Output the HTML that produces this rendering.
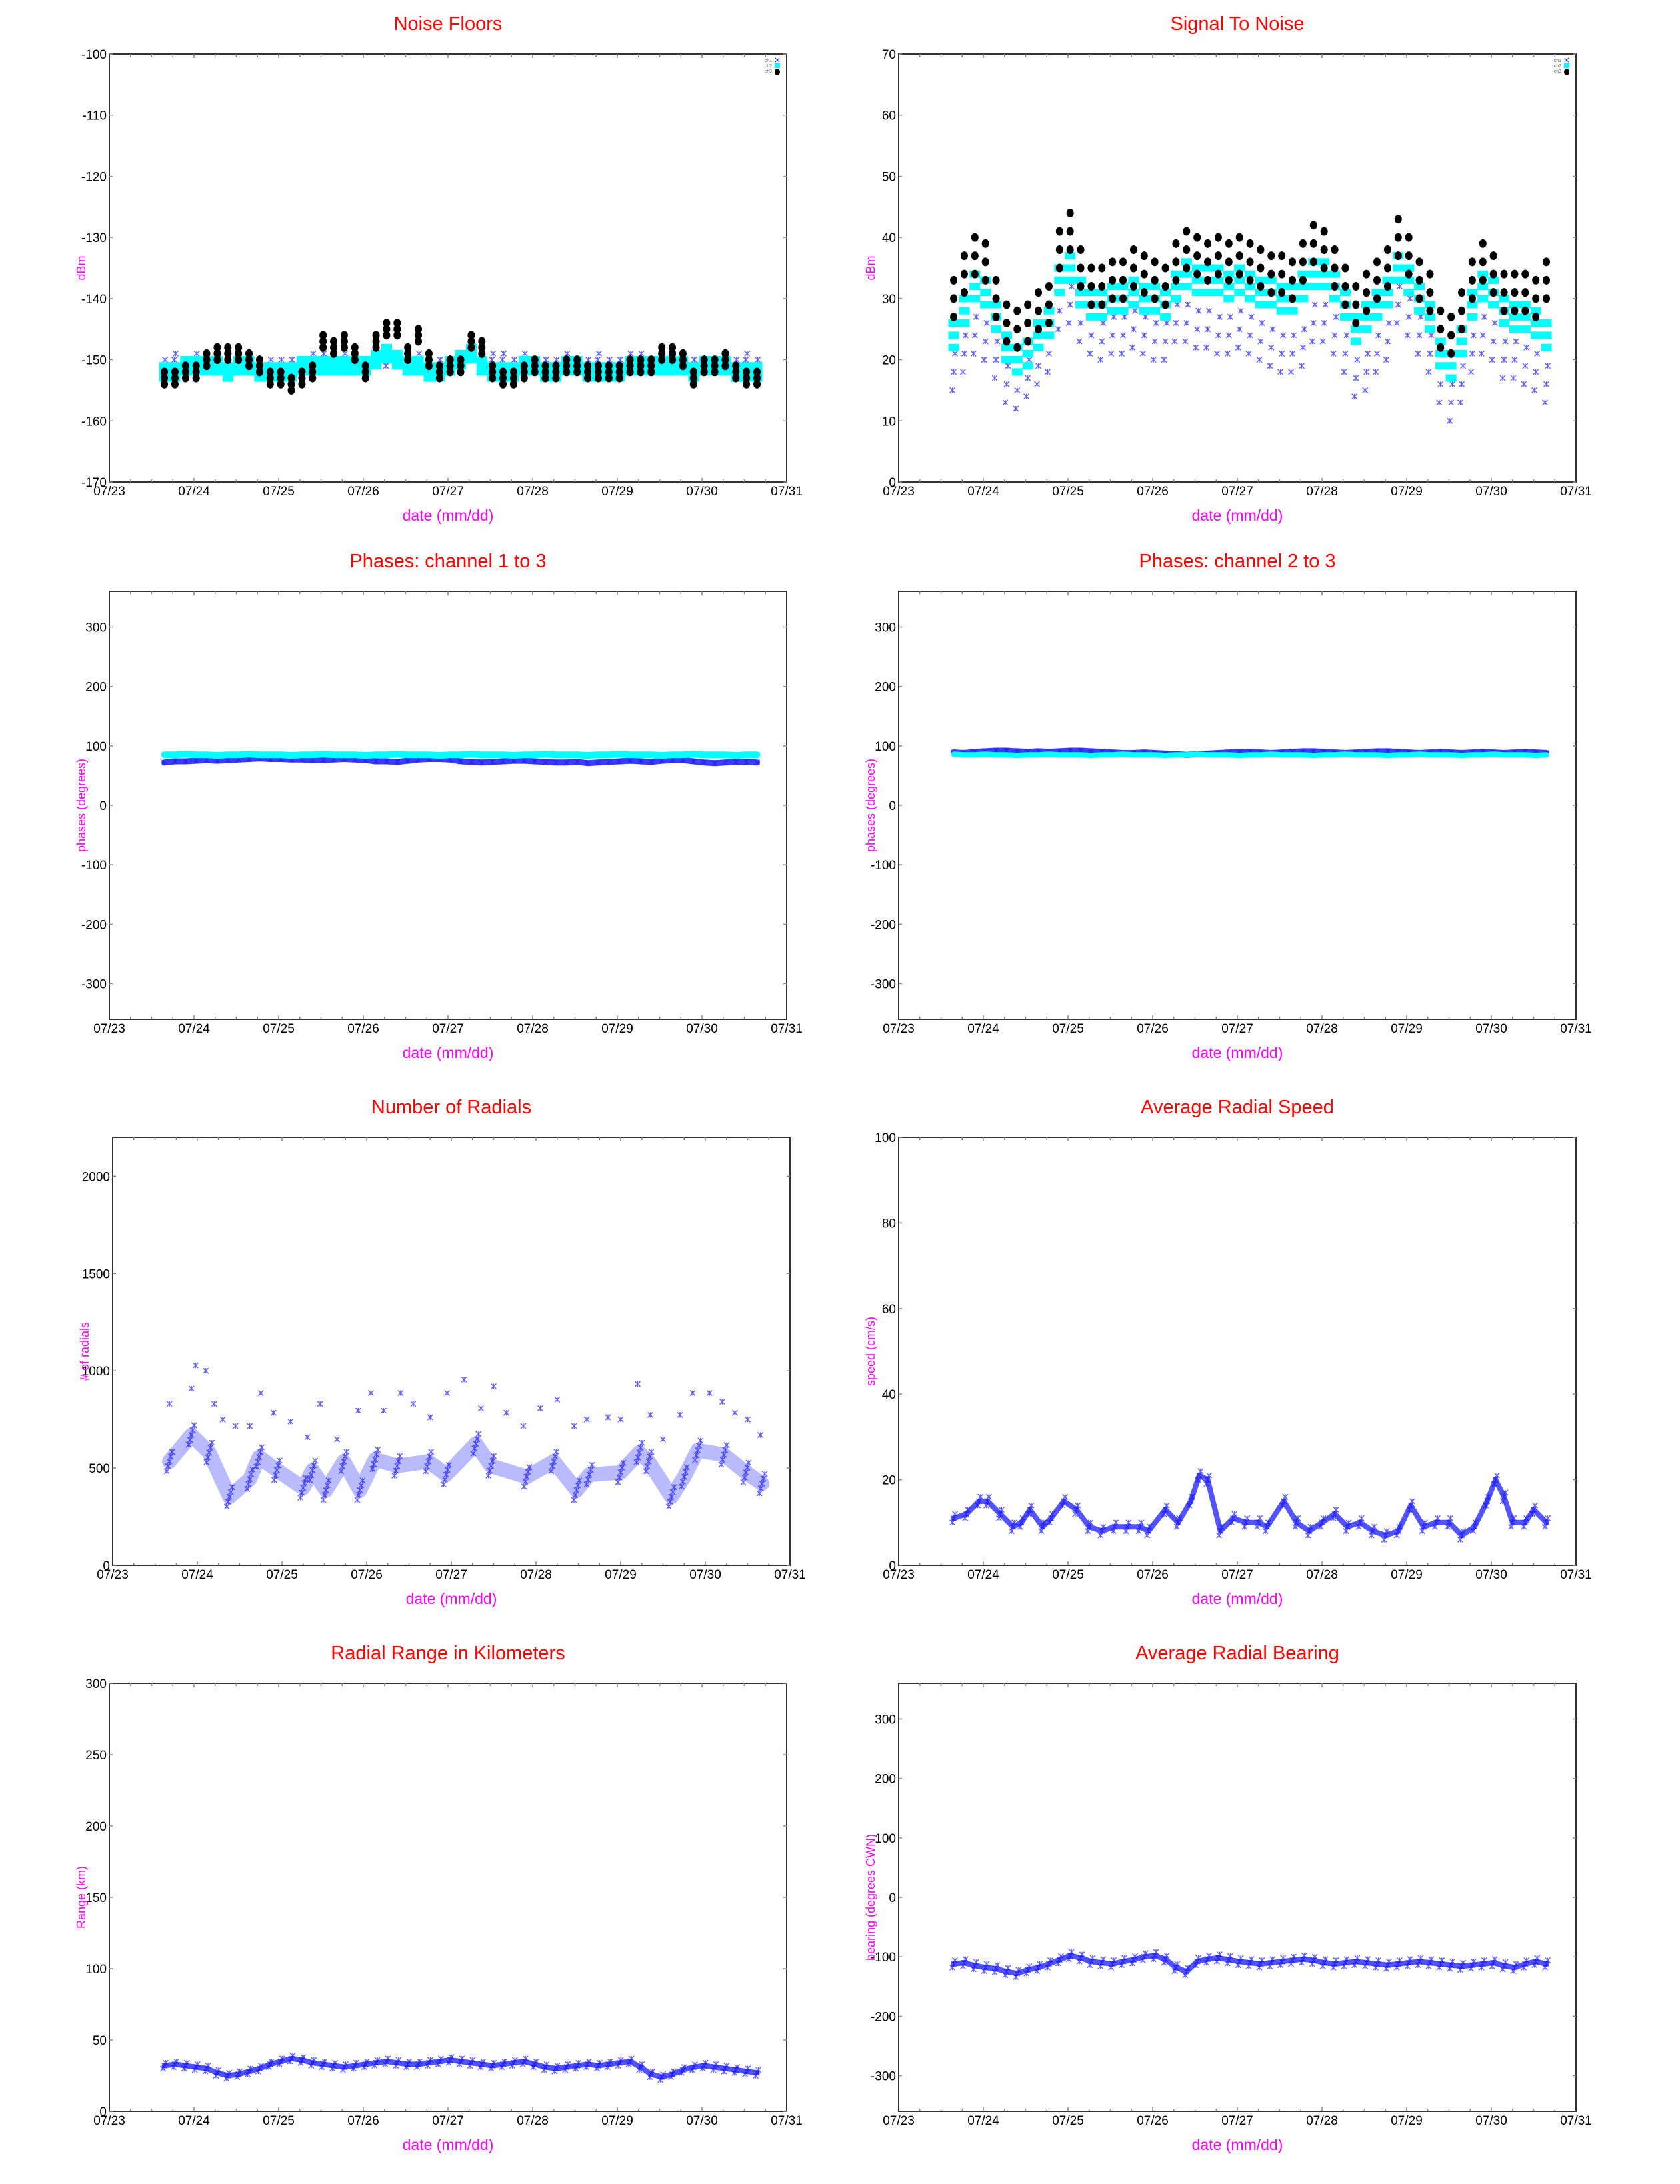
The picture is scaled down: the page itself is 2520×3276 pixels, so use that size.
<!DOCTYPE html>
<html><head><meta charset="utf-8"><title>Radial diagnostics</title>
<style>
html,body{margin:0;padding:0;background:#fff;}
svg{display:block;}
text{font-family:"Liberation Sans",sans-serif;}
</style></head>
<body>
<svg id="page" width="2520" height="3276" viewBox="0 0 2520 3276" xmlns="http://www.w3.org/2000/svg"></svg>
<script>
// ---------- data ----------
const dayLabels = ['07/23','07/24','07/25','07/26','07/27','07/28','07/29','07/30','07/31'];
const t0 = 0.65, tStep = 0.125; // 3-hourly sample grid (days since 07/23)

const noiseCh1 = [-151,-150,-151,-150,-151,-151,-150,-151,-151,-151,-151,-151,-151,-151,-150,-150,-151,-150,-150,-151,-149,-151,-150,-150,-150,-152,-151,-151,-150,-149,-151,-150,-150,-151,-150,-151,-151,-151,-150,-151,-151,-150,-151,-151,-150,-150,-151,-151,-150,-151,-151,-151,-151,-150,-151,-150,-151];
const noiseCh2 = [-152,-152,-151,-151,-151,-151,-152,-151,-151,-152,-152,-152,-152,-151,-151,-151,-151,-151,-151,-151,-150,-149,-150,-151,-151,-152,-152,-151,-150,-149,-151,-152,-152,-152,-151,-151,-152,-152,-151,-151,-152,-152,-152,-152,-151,-151,-151,-151,-151,-151,-152,-151,-151,-151,-152,-152,-152];
const noiseCh3 = [-153,-153,-152,-152,-150,-149,-149,-149,-150,-151,-153,-153,-154,-153,-152,-147,-148,-147,-149,-152,-147,-145,-145,-149,-146,-150,-152,-151,-151,-147,-148,-152,-153,-153,-152,-151,-152,-152,-151,-151,-152,-152,-152,-152,-151,-151,-151,-149,-149,-150,-153,-151,-151,-150,-152,-153,-153];

const snrCh1 = [19,22,25,24,21,17,16,18,20,22,29,30,27,25,24,25,25,26,25,24,24,27,27,26,26,25,25,26,25,24,23,22,22,23,27,27,25,22,18,19,22,24,30,28,25,22,17,14,17,22,25,24,21,21,20,19,17];
const snrCh2 = [24,28,32,31,27,22,20,21,24,26,33,35,31,29,29,30,30,31,30,30,29,32,34,33,33,33,32,33,32,31,31,30,30,32,34,34,32,29,25,27,29,31,35,33,30,27,21,19,23,29,32,31,28,27,27,26,24];
const snrCh3 = [30,34,37,36,30,26,25,26,28,29,38,41,35,32,32,33,33,35,34,33,32,36,38,37,36,37,36,37,36,35,34,34,33,36,39,38,35,32,29,31,33,35,40,37,33,31,25,24,28,33,36,34,31,31,31,30,33];

const ph13Ch1 = [72,74,74,75,76,75,76,77,78,79,78,78,77,77,76,76,77,78,77,76,74,74,73,75,77,78,78,77,74,73,72,73,74,75,75,74,73,72,72,73,71,72,73,74,75,74,73,75,76,76,74,72,71,72,73,73,72];
const ph13Ch2 = [85,85,86,85,85,84,85,85,86,85,85,85,84,85,85,86,85,85,85,84,85,85,86,85,85,85,84,85,85,86,85,85,85,84,85,85,86,85,85,85,84,85,85,86,85,85,85,84,85,85,86,85,85,85,84,85,85];
const ph23Ch1 = [89,88,90,91,92,92,91,90,91,90,91,92,92,91,90,89,88,88,89,88,87,86,85,86,87,88,89,90,90,89,88,89,90,91,91,90,89,88,89,90,91,91,90,89,88,89,90,89,88,89,90,89,88,89,90,89,88];
const ph23Ch2 = [86,85,85,86,85,85,84,85,85,86,85,85,85,84,85,85,86,85,85,85,84,85,85,86,85,85,85,84,85,85,86,85,85,85,84,85,85,86,85,85,85,84,85,85,86,85,85,85,84,85,85,86,85,85,85,84,85];

const radLowT = [0.67,0.93,1.14,1.38,1.62,1.73,1.94,2.25,2.36,2.52,2.73,2.92,3.1,3.36,3.73,3.94,4.29,4.47,4.89,5.21,5.48,5.63,6.0,6.22,6.33,6.6,6.75,6.91,7.22,7.48,7.67];
const radLowV = [534,670,580,352,443,557,489,398,489,386,534,386,545,511,534,466,625,511,455,534,386,466,477,580,534,352,455,591,568,477,420];
const radHighT = [0.67,0.93,0.98,1.1,1.2,1.3,1.45,1.62,1.75,1.9,2.1,2.3,2.45,2.65,2.9,3.05,3.2,3.4,3.55,3.75,3.95,4.15,4.35,4.5,4.65,4.85,5.05,5.25,5.45,5.6,5.85,6.0,6.2,6.35,6.5,6.7,6.85,7.05,7.2,7.35,7.5,7.65];
const radHighV = [830,909,1028,1000,830,750,716,716,886,784,739,659,830,648,795,886,795,886,830,761,886,955,807,920,784,716,807,852,716,750,761,750,932,773,648,773,886,886,841,784,750,670];

const speedT = [0.65,0.8,0.95,1.05,1.2,1.35,1.45,1.55,1.7,1.8,1.95,2.1,2.25,2.4,2.55,2.7,2.85,2.95,3.15,3.3,3.45,3.55,3.65,3.8,3.95,4.1,4.25,4.35,4.55,4.7,4.85,5.0,5.15,5.3,5.45,5.6,5.75,5.9,6.05,6.2,6.35,6.5,6.65,6.8,6.95,7.05,7.15,7.25,7.4,7.5,7.65];
const speedV = [11,12,15,15,12,9,10,13,9,11,15,13,9,8,9,9,9,8,13,10,15,21,20,8,11,10,10,9,15,10,8,10,12,9,10,8,7,8,14,9,10,10,7,9,15,20,16,10,10,13,10];

const rangeV = [32,33,32,31,30,27,25,26,28,30,33,35,37,36,34,33,32,31,32,33,34,35,34,33,33,34,35,36,35,34,33,32,33,34,35,33,31,30,31,32,33,32,33,34,35,31,26,24,26,29,31,32,31,30,29,28,27];
const bearingV = [-112,-110,-115,-118,-120,-125,-128,-122,-118,-112,-105,-98,-102,-108,-110,-112,-108,-105,-100,-98,-104,-118,-125,-108,-104,-102,-105,-108,-110,-112,-110,-108,-106,-104,-106,-110,-112,-110,-108,-110,-112,-114,-112,-110,-108,-110,-112,-114,-116,-114,-112,-110,-115,-118,-112,-108,-112];

const noiseTicks = [-170,-160,-150,-140,-130,-120,-110,-100];
const snrTicks = [0,10,20,30,40,50,60,70];
const phaseTicks = [-300,-200,-100,0,100,200,300];
const radTicks = [0,500,1000,1500,2000];
const speedTicks = [0,20,40,60,80,100];
const rangeTicks = [0,50,100,150,200,250,300];

// ---------- drawing helpers ----------
const NS = 'http://www.w3.org/2000/svg';
const svg = document.getElementById('page');
function mk(tag, attrs, parent){
  const e = document.createElementNS(NS, tag);
  for (const k in attrs) e.setAttribute(k, attrs[k]);
  (parent||svg).appendChild(e);
  return e;
}
function gridTimes(n){ const a=[]; for(let i=0;i<n;i++) a.push(t0+tStep*i); return a; }
const W = 1016, H = 642;

function makeChart(c){
  const g = mk('g', {});
  
  
  const L=c.left, T=c.top;
  c.x = d => L + d/8*W;
  c.y = v => T + H - (v - c.ymin)/(c.ymax - c.ymin)*H;
  const tt = mk('text', {x:L+W/2, y:T-36, 'text-anchor':'middle', fill:'#ff0000', 'font-size':29}, g);
  tt.textContent = c.title;
  
  
  const fr = mk('rect', {x:L, y:T, width:W, height:H, fill:'none', stroke:'#333', 'stroke-width':2}, g);
  
  
  for (let q=1;q<32;q++){
    const xx = L + q/32*W, len = (q%4===0)?6:4;
    mk('line',{x1:xx,y1:T,x2:xx,y2:T+len,stroke:'#888','stroke-width':1.5},g);
    mk('line',{x1:xx,y1:T+H,x2:xx,y2:T+H-len,stroke:'#888','stroke-width':1.5},g);
  }
  dayLabels.forEach((lab,i)=>{
    const tx = mk('text',{x:c.x(i), y:T+H+20, 'text-anchor':'middle', 'font-size':19, fill:'#000'}, g);
    tx.textContent = lab;
    
    
  });
  c.ticks.forEach(v=>{
    const yy = c.y(v);
    mk('line',{x1:L,y1:yy,x2:L+5,y2:yy,stroke:'#888','stroke-width':1.5},g);
    mk('line',{x1:L+W,y1:yy,x2:L+W-5,y2:yy,stroke:'#888','stroke-width':1.5},g);
    const ty = mk('text',{x:L-4, y:yy+7, 'text-anchor':'end', 'font-size':19, fill:'#000'}, g);
    ty.textContent = v;
    
    
  });
  const xt = mk('text',{x:L+W/2, y:T+H+58, 'text-anchor':'middle', 'font-size':23, fill:'#ff00ff'}, g);
  xt.textContent = 'date (mm/dd)';
  
  
  const yx = L-36, yc = T+H/2;
  const yt = mk('text',{x:yx, y:yc, 'text-anchor':'middle', 'font-size':18, fill:'#ff00ff', transform:'rotate(-90 '+yx+' '+yc+')'}, g);
  yt.textContent = c.ytitle;
  
  
  c.g = g;
  return c;
}

function ribbon(c, ts, vs, color, width, op){
  const pts = ts.map((t,i)=>c.x(t).toFixed(1)+','+c.y(vs[i]).toFixed(1)).join(' ');
  const p = mk('polyline',{points:pts, fill:'none', stroke:color, 'stroke-width':width, 'stroke-opacity':op, 'stroke-linejoin':'round','stroke-linecap':'round'}, c.g);
  
  
}
function marks(c, ts, vs, kind, color, offsets){
  const g = mk('g', {}, c.g);
  
  
  ts.forEach((t,i)=>{
    offsets.forEach((o,k)=>{
      const dx = kind==='star' ? (k - (offsets.length-1)/2)*2 : 0;
      const xx = c.x(t) + dx, yy = c.y(vs[i] + o);
      if (kind==='star'){
        mk('path',{d:`M${xx-4},${yy-4}L${xx+4},${yy+4}M${xx-4},${yy+4}L${xx+4},${yy-4}M${xx},${yy-4}L${xx},${yy+4}`, stroke:color, 'stroke-width':1.4, 'stroke-opacity':0.7, fill:'none'}, g);
      } else if (kind==='square'){
        mk('rect',{x:xx-8,y:yy-5.5,width:16,height:11,fill:color}, g);
      } else {
        mk('ellipse',{cx:xx,cy:yy,rx:5.5,ry:6.5,fill:color}, g);
      }
    });
  });
}
function legend(c){
  const L=c.left, T=c.top;
  const g = mk('g', {}, c.g);
  
  
  ['ch1','ch2','ch3'].forEach((s,i)=>{
    const tx = mk('text',{x:L+W-22, y:T+12+i*8, 'text-anchor':'end','font-size':7, fill:'#666'}, g);
    tx.textContent = s;
    
    
  });
  const lx = L+W-14;
  mk('path',{d:`M${lx-3},${T+6}L${lx+3},${T+12}M${lx-3},${T+12}L${lx+3},${T+6}`,stroke:'#2222ff','stroke-width':1.2},g);
  mk('rect',{x:lx-4,y:T+14,width:8,height:7,fill:'#00ffff'},g);
  mk('ellipse',{cx:lx,cy:T+27,rx:4,ry:5,fill:'#000'},g);
}

const BLUE='#1a1aff', CYAN='#00ffff', BLACK='#000000';
const tg = gridTimes(57);

const c1 = makeChart({name:'noise-floors-chart', left:164, top:81, ymin:-170, ymax:-100, ticks:noiseTicks, title:'Noise Floors', ytitle:'dBm'});
marks(c1, tg, noiseCh1, 'star', BLUE, [0,1]);
marks(c1, tg, noiseCh2, 'square', CYAN, [-1,0,1]);
marks(c1, tg, noiseCh3, 'circle', BLACK, [-1,0,1]);
legend(c1);

const c2 = makeChart({name:'signal-to-noise-chart', left:1348, top:81, ymin:0, ymax:70, ticks:snrTicks, title:'Signal To Noise', ytitle:'dBm'});
marks(c2, tg, snrCh1, 'star', BLUE, [-4,-1,2]);
marks(c2, tg, snrCh2, 'square', CYAN, [-2,0,2]);
marks(c2, tg, snrCh3, 'circle', BLACK, [-3,0,3]);
legend(c2);

const c3 = makeChart({name:'phases-1-3-chart', left:164, top:887, ymin:-360, ymax:360, ticks:phaseTicks, title:'Phases: channel 1 to 3', ytitle:'phases (degrees)'});
ribbon(c3, tg, ph13Ch1, BLUE, 9, 0.85);
marks(c3, tg, ph13Ch1, 'star', BLUE, [0]);
ribbon(c3, tg, ph13Ch2, CYAN, 10, 1);

const c4 = makeChart({name:'phases-2-3-chart', left:1348, top:887, ymin:-360, ymax:360, ticks:phaseTicks, title:'Phases: channel 2 to 3', ytitle:'phases (degrees)'});
ribbon(c4, tg, ph23Ch1, BLUE, 9, 0.85);
marks(c4, tg, ph23Ch1, 'star', BLUE, [0]);
ribbon(c4, tg, ph23Ch2, CYAN, 8, 1);

const c5 = makeChart({name:'number-of-radials-chart', left:169, top:1706, ymin:0, ymax:2200, ticks:radTicks, title:'Number of Radials', ytitle:'# of radials'});
ribbon(c5, radLowT, radLowV, BLUE, 22, 0.3);
marks(c5, radLowT, radLowV, 'star', BLUE, [-50,-25,0,25,50]);
marks(c5, radHighT, radHighV, 'star', BLUE, [0]);

const c6 = makeChart({name:'average-radial-speed-chart', left:1348, top:1706, ymin:0, ymax:100, ticks:speedTicks, title:'Average Radial Speed', ytitle:'speed (cm/s)'});
ribbon(c6, speedT, speedV, BLUE, 8, 0.75);
marks(c6, speedT, speedV, 'star', BLUE, [-1,0,1]);

const c7 = makeChart({name:'radial-range-chart', left:164, top:2525, ymin:0, ymax:300, ticks:rangeTicks, title:'Radial Range in Kilometers', ytitle:'Range (km)'});
ribbon(c7, tg, rangeV, BLUE, 8, 0.75);
marks(c7, tg, rangeV, 'star', BLUE, [-2,0,2]);

const c8 = makeChart({name:'average-radial-bearing-chart', left:1348, top:2525, ymin:-360, ymax:360, ticks:phaseTicks, title:'Average Radial Bearing', ytitle:'bearing (degrees CWN)'});
ribbon(c8, tg, bearingV, BLUE, 8, 0.75);
marks(c8, tg, bearingV, 'star', BLUE, [-6,0,6]);
</script>
</body></html>
